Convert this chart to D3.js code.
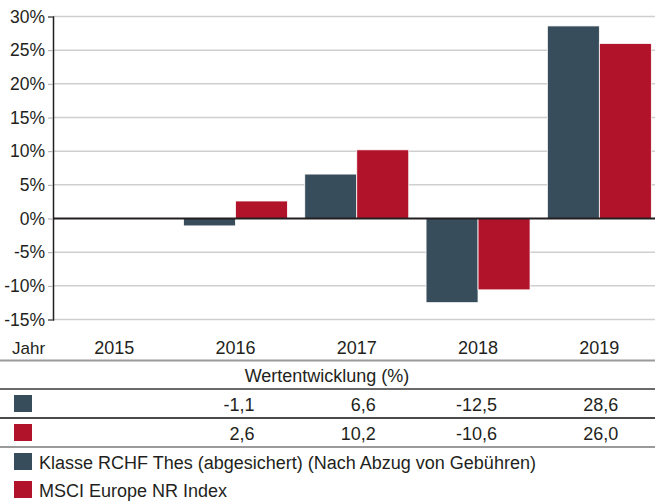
<!DOCTYPE html>
<html>
<head>
<meta charset="utf-8">
<script src="https://cdn.jsdelivr.net/npm/d3@7"></script>
<style>
  body { margin: 0; background: #fff; }
  svg { display: block; font-family: "Liberation Sans", Arial, sans-serif; }
</style>
</head>
<body>
<div id="chart"></div>
<script>
const years = ['2015', '2016', '2017', '2018', '2019'];
const seriesNames = ['Klasse RCHF Thes (abgesichert) (Nach Abzug von Gebühren)', 'MSCI Europe NR Index'];
const fundValues = [null, -1.1, 6.6, -12.5, 28.6];
const indexValues = [null, 2.6, 10.2, -10.6, 26.0];
const yTicks = [30, 25, 20, 15, 10, 5, 0, -5, -10, -15];
const colors = ['#374d5b', '#b1132b'];

const width = 655, height = 501;
const textColor = '#231f20';

const svg = d3.select('#chart').append('svg')
	.attr('width', width)
	.attr('height', height);

// scales
const x = d3.scaleBand()
	.domain(years)
	.range([53.5, 660]);

const pairW = 104;
const x1 = d3.scaleBand()
	.domain([0, 1])
	.range([(x.bandwidth() - pairW) / 2, (x.bandwidth() + pairW) / 2]);

const y = d3.scaleLinear()
	.domain([-15, 30])
	.range([319.5, 16.5]);

// grid
svg.append('g')
	.selectAll('line')
	.data(yTicks.filter(d => d !== 0))
	.join('line')
	.attr('x1', 53).attr('x2', 655)
	.attr('y1', d => y(d)).attr('y2', d => y(d))
	.attr('stroke', '#cfcfcf')
	.attr('stroke-width', 1.5);

// y axis
const yAxis = svg.append('g')
	.attr('transform', 'translate(53,0)')
	.call(d3.axisLeft(y).tickValues(yTicks).tickFormat(d => d + '%').tickSize(5).tickPadding(3));
yAxis.select('.domain').attr('stroke', textColor).attr('stroke-width', 1.5);
yAxis.selectAll('.tick line').attr('stroke', '#aaa');
yAxis.selectAll('.tick text')
	.attr('font-size', 17.5)
	.attr('fill', textColor)
	.attr('font-family', '"Liberation Sans", Arial, sans-serif');

// bars
const rows = years.map((yr, i) => ({ year: yr, vals: [fundValues[i], indexValues[i]] }));
svg.append('g')
	.selectAll('g')
	.data(rows)
	.join('g')
	.attr('transform', d => `translate(${x(d.year)},0)`)
	.selectAll('rect')
	.data(d => d.vals.map((v, k) => ({ v, k })).filter(e => e.v !== null))
	.join('rect')
	.attr('x', d => x1(d.k))
	.attr('width', x1.bandwidth())
	.attr('y', d => y(Math.max(0, d.v)))
	.attr('height', d => Math.abs(y(d.v) - y(0)))
	.attr('fill', d => colors[d.k])
	.attr('stroke', '#fff')
	.attr('stroke-width', 0.8);

// zero line
svg.append('line')
	.attr('x1', 53).attr('x2', 655)
	.attr('y1', y(0)).attr('y2', y(0))
	.attr('stroke', textColor)
	.attr('stroke-width', 2);

// table
const table = svg.append('g').attr('font-size', 18).attr('fill', textColor);

table.append('text').attr('x', 12).attr('y', 354).attr('font-size', 17).text('Jahr');
table.selectAll('.yr')
	.data(years)
	.join('text')
	.attr('class', 'yr')
	.attr('x', d => x(d) + x.bandwidth() / 2)
	.attr('y', 354)
	.attr('text-anchor', 'middle')
	.text(d => d);

table.append('text')
	.attr('x', 327).attr('y', 382)
	.attr('text-anchor', 'middle')
	.text('Wertentwicklung (%)');

const fmt = v => v.toFixed(1).replace('.', ',');
[fundValues, indexValues].forEach((vals, k) => {
	const rowY = 411 + k * 29;
	table.append('rect')
		.attr('x', 14).attr('y', rowY - 16)
		.attr('width', 18).attr('height', 17)
		.attr('fill', colors[k]);
	table.selectAll('.v' + k)
		.data(years.map((yr, i) => ({ yr, v: vals[i] })).filter(d => d.v !== null))
		.join('text')
		.attr('x', d => x(d.yr) + x.bandwidth() / 2 + 19)
		.attr('y', rowY)
		.attr('text-anchor', 'end')
		.text(d => fmt(d.v));
});

// table rules
const rules = [
	{ y: 360.5, c: '#9a9a9a' },
	{ y: 389, c: '#6a6a6a' },
	{ y: 418, c: '#4a4a4a' },
	{ y: 447, c: '#9a9a9a' }
];
svg.append('g')
	.selectAll('line')
	.data(rules)
	.join('line')
	.attr('x1', 0).attr('x2', 655)
	.attr('y1', d => d.y).attr('y2', d => d.y)
	.attr('stroke', d => d.c)
	.attr('stroke-width', 1.8);

// legend
const legend = svg.append('g').attr('font-size', 18).attr('fill', textColor);
seriesNames.forEach((name, k) => {
	const ly = 469 + k * 28;
	legend.append('rect')
		.attr('x', 14).attr('y', ly - 16)
		.attr('width', 18).attr('height', 17)
		.attr('fill', colors[k]);
	legend.append('text')
		.attr('x', 39).attr('y', ly)
		.text(name);
});
</script>
</body>
</html>
